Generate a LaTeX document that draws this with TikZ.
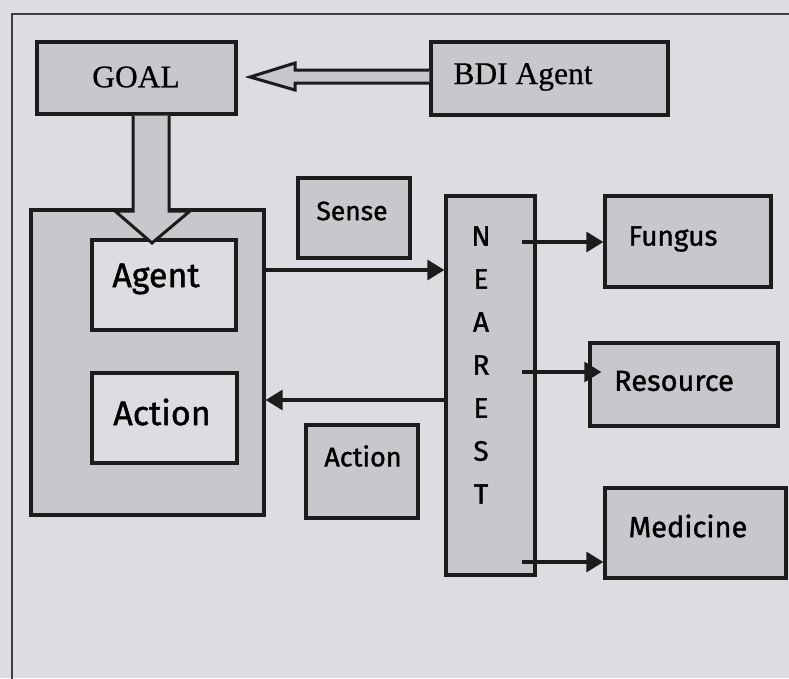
\documentclass[tikz,border=0pt]{standalone}
\usepackage{fontspec}
\setmainfont[FakeBold=0.6]{Liberation Serif}
\newfontfamily\handfont[FakeBold=1.2]{Fira Sans}
\usetikzlibrary{arrows.meta,calc}
\definecolor{paper}{RGB}{221,220,225}
\definecolor{boxfill}{RGB}{199,199,204}
\definecolor{ink}{RGB}{28,28,28}
\begin{document}
\begin{tikzpicture}[x=1pt,y=-1pt,
  box/.style={draw=ink,line width=3.3pt,fill=boxfill,inner sep=0pt},
  inbox/.style={box,fill=paper},
  serif/.style={font=\fontsize{31.5}{36}\selectfont},
  hand/.style={font=\handfont\fontsize{#1}{#1}\selectfont},
  letters/.style={font=\handfont\fontsize{28}{43}\selectfont,align=center},
  link/.style={draw=ink,line width=3.2pt,-{Triangle[length=17pt,width=20pt]}},
  hollow/.style={draw=ink,line width=3pt,fill=boxfill,line join=miter}]

% paper and frame
\fill[paper] (0,0) rectangle (789,678);
\useasboundingbox (0,0) rectangle (789,678);
\begin{scope}
  \clip (0,0) rectangle (789,678);
  \draw[ink!85,line width=1.4pt] (12,14) rectangle (800,700);
\end{scope}

% top row
\node[box,minimum width=199pt,minimum height=72pt] (goal) at (136.5,78) {};
\node[serif] (goaltext) at (136,77) {GOAL};
\node[box,minimum width=237pt,minimum height=73pt] (bdi) at (549.5,78.5) {};
\node[serif] (bditext) at (523,77) {BDI Agent};

% wide hollow arrow BDI Agent -> GOAL
\draw[hollow] (bdi.west |- 0,70) -- (295,70) -- (295,63) -- (250,77)
  -- (295,90) -- (295,83) -- (bdi.west |- 0,83);

% agent system
\node[box,minimum width=233pt,minimum height=305pt] (agentsys) at (147.5,362.5) {};
\node[inbox,minimum width=144pt,minimum height=90pt] (agent) at (164,285) {};
\node[hand=34] (agenttext) at (156,279) {Agent};
\node[inbox,minimum width=145pt,minimum height=90pt] (action) at (164.5,418) {};
\node[hand=34] (actiontext) at (162,412) {Action};

% wide hollow arrow GOAL -> Agent
\draw[hollow] (goal.south -| 133,0) -- (133,211) -- (115,211) -- (152,243)
  -- (190,211) -- (169,211) -- (goal.south -| 169,0);

% channel labels
\node[box,minimum width=112pt,minimum height=80pt] (sense) at (354,218) {};
\node[hand=26.5] (sensetext) at (352,211) {Sense};
\node[box,minimum width=112pt,minimum height=93pt] (actlabel) at (362,471.5) {};
\node[hand=27] (actlabeltext) at (363,456) {Action};

% NEAREST selector
\node[box,minimum width=89pt,minimum height=379pt] (nearest) at (490.5,385.5) {};
\node[letters] (nearesttext) at (481,365) {N\\E\\A\\R\\E\\S\\T};

% targets
\node[box,minimum width=166pt,minimum height=91pt] (fungus) at (688,241.5) {};
\node[hand=28] (fungustext) at (673,239) {Fungus};
\node[box,minimum width=188pt,minimum height=83pt] (resource) at (684,384.5) {};
\node[hand=29] (resourcetext) at (674,381) {Resource};
\node[box,minimum width=181pt,minimum height=90pt] (medicine) at (695.5,533) {};
\node[hand=29] (medicinetext) at (688,526) {Medicine};

% connectors
\draw[link] (agentsys.east |- 0,270) -- (nearest.west |- 0,270);
\draw[link] (nearest.west |- 0,400) -- (agentsys.east |- 0,400);
\draw[link] ($(nearest.east |- 0,242)+(-15,0)$) -- (fungus.west |- 0,242);
\draw[link] ($(nearest.east |- 0,372)+(-15,0)$) -- ($(resource.west |- 0,372)+(13,0)$);
\draw[link] ($(nearest.east |- 0,562)+(-15,0)$) -- (medicine.west |- 0,562);
\end{tikzpicture}
\end{document}
